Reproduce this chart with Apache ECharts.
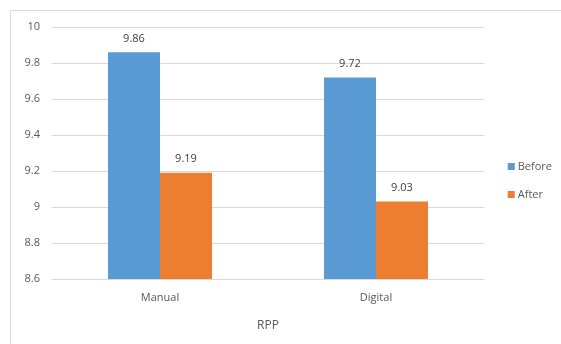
<!DOCTYPE html>
<html>
<head>
<meta charset="utf-8">
<script src="https://cdn.jsdelivr.net/npm/echarts@6/dist/echarts.min.js"></script>
<style>
  html, body { margin: 0; padding: 0; background: #fff; }
  #chart { width: 561px; height: 344px; }
</style>
</head>
<body>
<div id="chart"></div>
<script>
var categories = ['Manual', 'Digital'];
var beforeValues = [9.86, 9.72];
var afterValues = [9.19, 9.03];

var chart = echarts.init(document.getElementById('chart'));
var font = 'Open Sans, Liberation Sans, sans-serif';
var option = {
    animation: false,
    graphic: [{
        type: 'rect',
        shape: { x: 10.5, y: 10.5, width: 560, height: 360 },
        style: { fill: 'none', stroke: '#d9d9d9', lineWidth: 1 },
        silent: true
    }],
    grid: { left: 52, right: 77, top: 27, bottom: 65 },
    legend: {
        orient: 'vertical',
        right: 4,
        top: 156,
        itemWidth: 7,
        itemHeight: 7,
        itemGap: 17,
        icon: 'rect',
        textStyle: { color: '#595959', fontSize: 11, fontFamily: font, padding: [0, 0, 0, -2] },
        data: ['Before', 'After']
    },
    xAxis: {
        type: 'category',
        data: categories,
        name: 'RPP',
        nameLocation: 'middle',
        nameGap: 41,
        nameTextStyle: { color: '#595959', fontSize: 12, fontFamily: font },
        axisLine: { lineStyle: { color: '#d9d9d9' } },
        axisTick: { show: false },
        axisLabel: { color: '#595959', fontSize: 11, fontFamily: font, margin: 13 }
    },
    yAxis: {
        type: 'value',
        min: 8.6,
        max: 10,
        interval: 0.2,
        axisLine: { show: false },
        axisTick: { show: false },
        splitLine: { lineStyle: { color: '#d9d9d9' } },
        axisLabel: {
            color: '#595959', fontSize: 11, fontFamily: font, margin: 12,
            formatter: function (v) { return String(Math.round(v * 10) / 10); }
        }
    },
    series: [{
        name: 'Before',
        type: 'bar',
        data: beforeValues,
        barWidth: 52,
        barGap: '0%',
        itemStyle: { color: '#5b9bd5' },
        label: { show: true, position: 'top', distance: 8, color: '#404040', fontSize: 11, fontFamily: font }
    }, {
        name: 'After',
        type: 'bar',
        data: afterValues,
        barWidth: 52,
        barGap: '0%',
        itemStyle: { color: '#ed7d31' },
        label: { show: true, position: 'top', distance: 8, color: '#404040', fontSize: 11, fontFamily: font }
    }]
};
chart.setOption(option);
</script>
</body>
</html>
